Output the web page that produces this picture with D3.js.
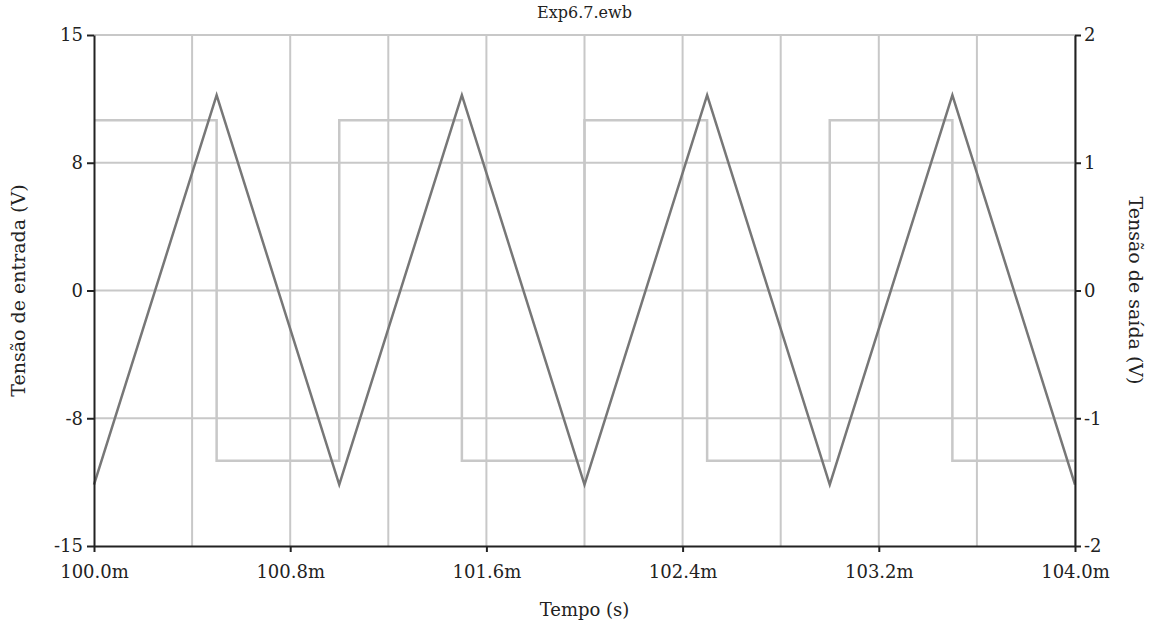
<!DOCTYPE html>
<html>
<head>
<meta charset="utf-8">
<title>Exp6.7.ewb</title>
<script src="https://d3js.org/d3.v7.min.js"></script>
<style>
  body { margin: 0; background: #fff; }
  text { font-family: "DejaVu Serif", serif; fill: #222; }
</style>
</head>
<body>
<svg width="1152" height="630"></svg>
<script>
// time in ms
var triTime = [100.0, 100.5, 101.0, 101.5, 102.0, 102.5, 103.0, 103.5, 104.0];
var triValue = [-1.52, 1.53, -1.52, 1.53, -1.52, 1.53, -1.52, 1.53, -1.52];   // Tensão de saída (V)
var sqTime = [100.0, 100.5, 100.5, 101.0, 101.0, 101.5, 101.5, 102.0, 102.0, 102.5, 102.5, 103.0, 103.0, 103.5, 103.5, 104.0];
var sqValue = [10, 10, -10, -10, 10, 10, -10, -10, 10, 10, -10, -10, 10, 10, -10, -10];   // Tensão de entrada (V)
var xTicks = [100.0, 100.8, 101.6, 102.4, 103.2, 104.0];
var xGrid = [100.4, 100.8, 101.2, 101.6, 102.0, 102.4, 102.8, 103.2, 103.6, 104.0];
var leftTicks = [-15, -7.5, 0, 7.5, 15];
var rightTicks = [-2, -1, 0, 1, 2];

var svg = d3.select("svg"),
    margin = {top: 35, right: 77, bottom: 84, left: 94},
    width = 1152 - margin.left - margin.right,
    height = 630 - margin.top - margin.bottom,
    g = svg.append("g").attr("transform", "translate(" + margin.left + "," + margin.top + ")");

var x = d3.scaleLinear().domain([100, 104]).range([0, width]);
var yL = d3.scaleLinear().domain([-15, 15]).range([height, 0]);
var yR = d3.scaleLinear().domain([-2, 2]).range([height, 0]);

// grid
g.append("g").selectAll("line").data(xGrid).enter().append("line")
    .attr("x1", x).attr("x2", x).attr("y1", 0).attr("y2", height)
    .attr("stroke", "#c8c8c8").attr("stroke-width", 2);
g.append("g").selectAll("line").data(rightTicks.slice(1)).enter().append("line")
    .attr("x1", 0).attr("x2", width).attr("y1", yR).attr("y2", yR)
    .attr("stroke", "#c8c8c8").attr("stroke-width", 2);

// series
var sq = d3.line().x(function(d, i) { return x(sqTime[i]); }).y(function(d) { return yL(d); });
g.append("path").datum(sqValue).attr("d", sq)
    .attr("fill", "none").attr("stroke", "#c8c8c8").attr("stroke-width", 2.5);

var tri = d3.line().x(function(d, i) { return x(triTime[i]); }).y(function(d) { return yR(d); });
g.append("path").datum(triValue).attr("d", tri)
    .attr("fill", "none").attr("stroke", "#777").attr("stroke-width", 2.5);

// axes
function styleAxis(sel) {
  sel.attr("font-size", null);
  sel.select(".domain").attr("stroke", "#222").attr("stroke-width", 2);
  sel.selectAll(".tick line").attr("stroke", "#222").attr("stroke-width", 2);
  sel.selectAll(".tick text").style("font-size", "18px").attr("fill", "#222");
}
function intFmt(d) { return d.toFixed(0); }

g.append("g").attr("transform", "translate(0," + height + ")")
    .call(d3.axisBottom(x).tickValues(xTicks).tickSize(6).tickSizeOuter(0).tickPadding(13)
      .tickFormat(function(d) { return d.toFixed(1) + "m"; }))
    .call(styleAxis);

g.append("g")
    .call(d3.axisLeft(yL).tickValues(leftTicks).tickSize(7).tickSizeOuter(0).tickPadding(4)
      .tickFormat(intFmt))
    .call(styleAxis);

g.append("g").attr("transform", "translate(" + width + ",0)")
    .call(d3.axisRight(yR).tickValues(rightTicks).tickSize(6).tickSizeOuter(0).tickPadding(3)
      .tickFormat(intFmt))
    .call(styleAxis);

// titles
svg.append("text").attr("x", margin.left + width / 2).attr("y", 18)
    .attr("text-anchor", "middle").style("font-size", "16px").text("Exp6.7.ewb");
svg.append("text").attr("x", margin.left + width / 2).attr("y", 616)
    .attr("text-anchor", "middle").style("font-size", "18px").text("Tempo (s)");
svg.append("text").attr("transform", "translate(25," + (margin.top + height / 2) + ")rotate(-90)")
    .attr("text-anchor", "middle").style("font-size", "19px").text("Tensão de entrada (V)");
svg.append("text").attr("transform", "translate(1129," + (margin.top + height / 2) + ")rotate(90)")
    .attr("text-anchor", "middle").style("font-size", "19px").text("Tensão de saída (V)");
</script>
</body>
</html>
